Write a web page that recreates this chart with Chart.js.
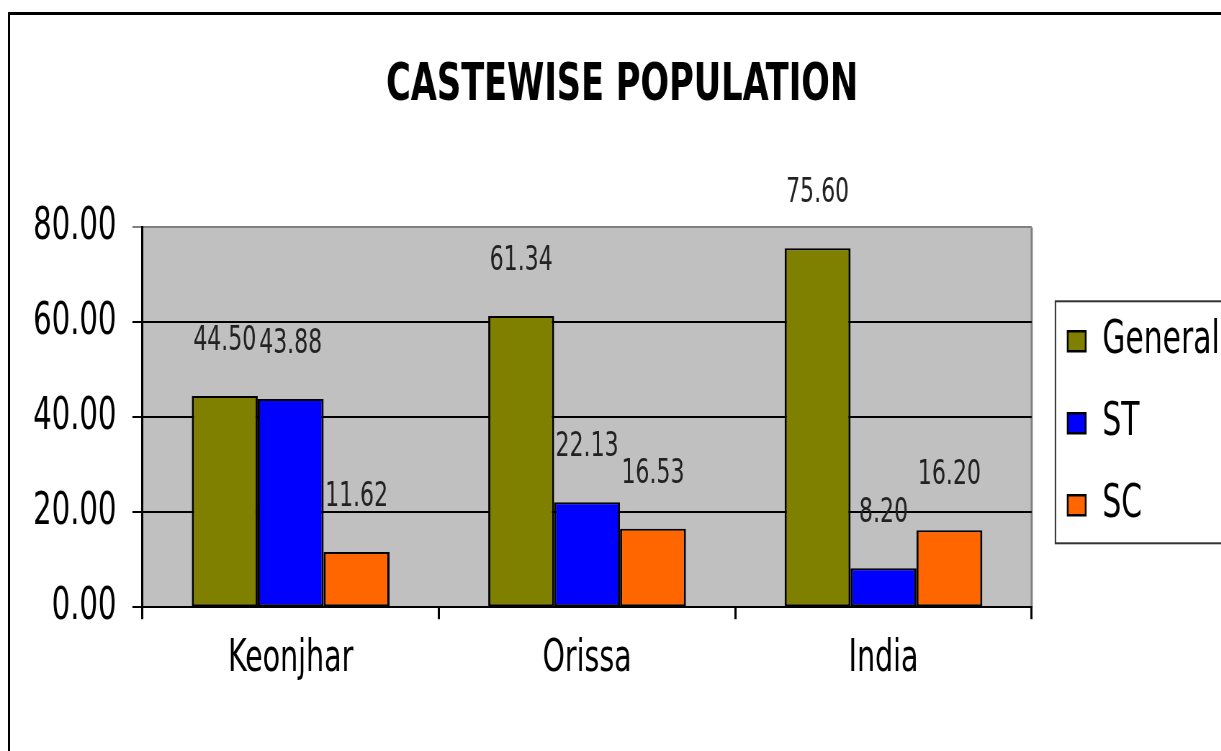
<!DOCTYPE html>
<html>
<head>
<meta charset="utf-8">
<script src="https://cdn.jsdelivr.net/npm/chart.js@4/dist/chart.umd.min.js"></script>
<style>
  body { margin: 0; background: #fff; overflow: hidden; }
  #frame { position: absolute; left: 8px; top: 12px; width: 1300px; height: 800px; border-top: 3px solid #000; border-left: 2px solid #000; }
  /* no narrow font installed, so the canvas is drawn wide and squeezed to 1221px */
  #chart { position: absolute; left: 0; top: 0; transform: scaleX(0.72); transform-origin: 0 0; }
</style>
</head>
<body>
<div id="frame"></div>
<canvas id="chart" width="1696" height="751"></canvas>
<script>
const categories = ['Keonjhar', 'Orissa', 'India'];
const general = [44.50, 61.34, 75.60];
const st = [43.88, 22.13, 8.20];
const sc = [11.62, 16.53, 16.20];
const yTicks = [0, 20, 40, 60, 80];

const FONT = "'DejaVu Sans Condensed', 'Liberation Sans Narrow', sans-serif";

// grey plot area + grey right edge, like the old Excel look
const plotBackground = {
  id: 'plotBackground',
  beforeDraw(chart) {
    const { ctx, chartArea: a } = chart;
    ctx.save();
    ctx.fillStyle = '#c0c0c0';
    ctx.fillRect(a.left, a.top, a.right - a.left, a.bottom - a.top);
    ctx.strokeStyle = '#808080';
    ctx.lineWidth = 3;
    ctx.beginPath();
    ctx.moveTo(a.right, a.top);
    ctx.lineTo(a.right, a.bottom);
    ctx.stroke();
    ctx.restore();
  }
};

// value labels above each bar
const valueLabels = {
  id: 'valueLabels',
  afterDatasetsDraw(chart) {
    const { ctx } = chart;
    ctx.save();
    ctx.font = '34px ' + FONT;
    ctx.fillStyle = '#222';
    ctx.textAlign = 'center';
    ctx.textBaseline = 'middle';
    chart.data.datasets.forEach((ds, i) => {
      chart.getDatasetMeta(i).data.forEach((bar, j) => {
        ctx.fillText(ds.data[j].toFixed(2), bar.x, bar.y - 55);
      });
    });
    ctx.restore();
  }
};

// box round the legend
const legendBox = {
  id: 'legendBox',
  afterDraw(chart) {
    const boxes = chart.legend.legendHitBoxes;
    if (!boxes || !boxes.length) return;
    const first = boxes[0], last = boxes[boxes.length - 1];
    const { ctx } = chart;
    ctx.save();
    ctx.strokeStyle = '#333';
    ctx.lineWidth = 2;
    ctx.strokeRect(first.left - 17, first.top - 17, 400, last.top + last.height - first.top + 32);
    ctx.restore();
  }
};

const data = {
  labels: categories,
  datasets: [
    { label: 'General', data: general, backgroundColor: '#808000' },
    { label: 'ST', data: st, backgroundColor: '#0000ff' },
    { label: 'SC', data: sc, backgroundColor: '#ff6600' }
  ].map(d => Object.assign(d, {
    borderColor: '#000',
    borderWidth: { top: 2, bottom: 2, left: 3, right: 3 },
    borderSkipped: false
  }))
};

const config = {
  type: 'bar',
  data: data,
  plugins: [plotBackground, valueLabels, legendBox],
  options: {
    responsive: false,
    animation: false,
    devicePixelRatio: 1,
    categoryPercentage: 0.667,
    barPercentage: 1,
    layout: { padding: { left: 24, right: -8, top: 0, bottom: 51 } },
    scales: {
      x: {
        grid: { drawOnChartArea: false, offset: true, tickLength: 12, color: '#000', lineWidth: 3 },
        border: { color: '#000', width: 2 },
        ticks: { font: { family: FONT, size: 44 }, color: '#000', padding: 14 }
      },
      y: {
        min: 0,
        max: 80,
        afterBuildTicks: axis => { axis.ticks = yTicks.map(v => ({ value: v })); },
        grid: {
          tickLength: 14,
          lineWidth: 2,
          color: c => (c.tick && c.tick.value === 80 ? '#808080' : '#000')
        },
        border: { color: '#000', width: 3 },
        ticks: {
          font: { family: FONT, size: 45 },
          color: '#000',
          padding: 22,
          callback: v => Number(v).toFixed(2)
        }
      },
      // empty spacer between plot and legend
      gap: {
        position: 'right',
        display: true,
        grid: { display: false },
        border: { display: false },
        ticks: { display: false },
        afterFit: s => { s.width = 14; }
      }
    },
    plugins: {
      title: {
        display: true,
        text: 'CASTEWISE POPULATION',
        color: '#000',
        font: { family: FONT, size: 52, weight: 'bold' },
        padding: { top: 55, bottom: 110 }
      },
      legend: {
        position: 'right',
        fullSize: false,
        title: { display: true, text: '', font: { size: 10 }, padding: 0 },
        labels: {
          font: { family: FONT, size: 46 },
          color: '#000',
          boxWidth: 25,
          boxHeight: 20,
          padding: 36
        }
      },
      tooltip: { enabled: false }
    }
  }
};

new Chart(document.getElementById('chart'), config);
</script>
</body>
</html>
